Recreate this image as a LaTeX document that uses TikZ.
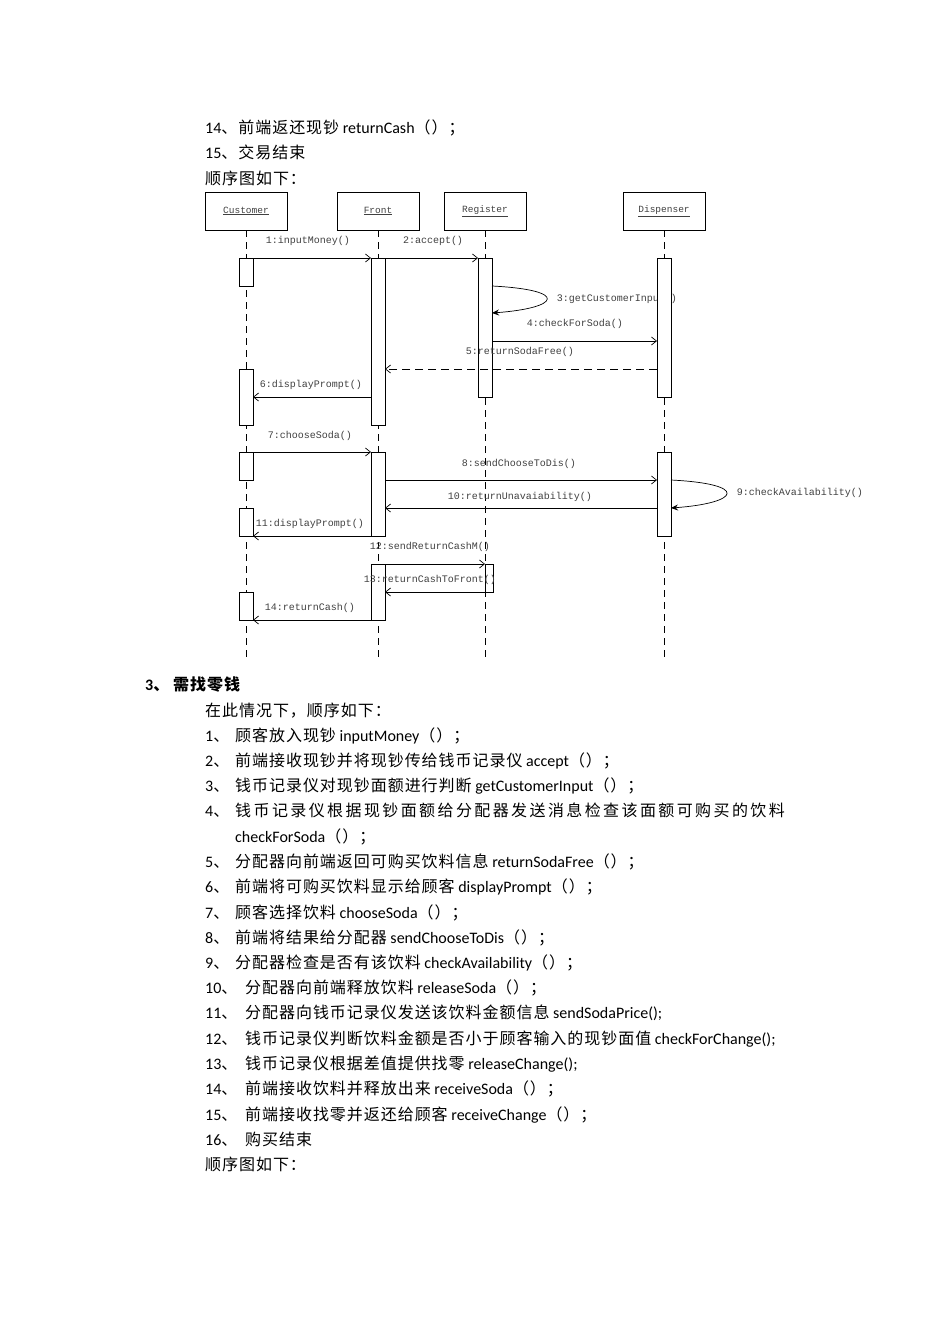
\documentclass[tikz,border=0pt]{standalone}
\usepackage{fontspec}
\setmainfont{Carlito}
\newfontfamily\cjk[LetterSpace=6]{Noto Sans CJK SC}
\newfontfamily\cjkw[LetterSpace=15]{Noto Sans CJK SC}
\newfontfamily\dmono{Liberation Mono}
\usetikzlibrary{arrows.meta}
\newcommand{\zh}[1]{{\cjk #1}}
\begin{document}
\begin{tikzpicture}[x=1pt,y=-1pt,
  txt/.style={anchor=base west,inner sep=0pt,font=\fontsize{16}{25}\selectfont},
  obj/.style={draw,line width=0.7pt,minimum width=82pt,minimum height=38pt,inner sep=0pt,font=\dmono\fontsize{9.5}{10}\selectfont,text=black!75},
  life/.style={dashed,dash pattern=on 7pt off 5pt,line width=0.7pt},
  act/.style={draw,fill=white,line width=0.7pt},
  msg/.style={line width=0.7pt,-{Straight Barb[length=5pt,width=8pt]}},
  rmsg/.style={msg,dashed,dash pattern=on 8pt off 5pt},
  self/.style={line width=0.7pt,-{Stealth[length=7pt,width=6pt]}},
  lab/.style={font=\dmono\fontsize{10}{10}\selectfont,inner sep=1pt,text=black!75}]
\useasboundingbox (0,0) rectangle (950,1344);
% top text
\node[txt] (t1) at (205,133) {14\zh{、前端返还现钞} returnCash\zh{（）；}};
\node[txt] (t2) at (205,158) {15\zh{、交易结束}};
\node[txt] (t3) at (205,184) {\zh{顺序图如下：}};
% objects
\node[obj] (cu) at (246,211) {\underline{Customer}};
\node[obj] (fr) at (378,211) {\underline{Front}};
\node[obj] (re) at (485,211) {\underline{Register}};
\node[obj] (di) at (664,211) {\underline{Dispenser}};
\coordinate (cuE) at (246,660);\coordinate (frE) at (378,660);
\coordinate (reE) at (485,660);\coordinate (diE) at (664,660);
\draw[life] (cu.south) -- (cuE);\draw[life] (fr.south) -- (frE);
\draw[life] (re.south) -- (reE);\draw[life] (di.south) -- (diE);
% labels that are partly covered
\node[lab] (l3) at (617,299) {3:getCustomerInput()};
\node[lab] (l9) at (800,493) {9:checkAvailability()};
% activations
\foreach \a/\b in {258/286,369/425,452/480,508/536,592/620}
  \draw[act] (239,\a) rectangle (253,\b);
\draw[act] (371,258) rectangle (385,425);
\draw[act] (371,452) rectangle (385,536);
\draw[act] (371,564) rectangle (385,620);
\draw[act] (478,258) rectangle (492,397);
\draw[act] (485,564) rectangle (493,592);
\draw[act] (657,258) rectangle (671,397);
\draw[act] (657,452) rectangle (671,536);
% message coordinates
\coordinate (m1a) at (253,258);\coordinate (m1b) at (371,258);
\coordinate (m2a) at (385,258);\coordinate (m2b) at (478,258);
\coordinate (m3a) at (492,286);\coordinate (m3b) at (492,313);
\coordinate (m4a) at (492,341);\coordinate (m4b) at (657,341);
\coordinate (m5a) at (657,369);\coordinate (m5b) at (385,369);
\coordinate (m6a) at (371,397);\coordinate (m6b) at (253,397);
\coordinate (m7a) at (253,452);\coordinate (m7b) at (371,452);
\coordinate (m8a) at (385,480);\coordinate (m8b) at (657,480);
\coordinate (m9a) at (671,480);\coordinate (m9b) at (671,508);
\coordinate (m10a) at (657,508);\coordinate (m10b) at (385,508);
\coordinate (m11a) at (371,536);\coordinate (m11b) at (253,536);
\coordinate (m12a) at (385,564);\coordinate (m12b) at (485,564);
\coordinate (m13a) at (485,592);\coordinate (m13b) at (385,592);
\coordinate (m14a) at (371,620);\coordinate (m14b) at (253,620);
\draw[msg] (m1a) -- (m1b);\draw[msg] (m2a) -- (m2b);
\draw[self] (m3a) .. controls (570,290) and (560,308) .. (m3b);
\draw[msg] (m4a) -- (m4b);\draw[rmsg] (m5a) -- (m5b);
\draw[msg] (m6a) -- (m6b);\draw[msg] (m7a) -- (m7b);
\draw[msg] (m8a) -- (m8b);
\draw[self] (m9a) .. controls (750,484) and (740,503) .. (m9b);
\draw[msg] (m10a) -- (m10b);\draw[msg] (m11a) -- (m11b);
\draw[msg] (m12a) -- (m12b);\draw[msg] (m13a) -- (m13b);
\draw[msg] (m14a) -- (m14b);
\node[lab] (l1) at (308,241) {1:inputMoney()};
\node[lab] (l2) at (433,241) {2:accept()};
\node[lab] (l4) at (575,324) {4:checkForSoda()};
\node[lab] (l5) at (520,352) {5:returnSodaFree()};
\node[lab] (l6) at (311,385) {6:displayPrompt()};
\node[lab] (l7) at (310,436) {7:chooseSoda()};
\node[lab] (l8) at (519,464) {8:sendChooseToDis()};
\node[lab] (l10) at (520,497) {10:returnUnavaiability()};
\node[lab] (l11) at (310,524) {11:displayPrompt()};
\node[lab] (l12) at (430,547) {12:sendReturnCashM()};
\node[lab] (l13) at (430,580) {13:returnCashToFront()};
\node[lab] (l14) at (310,608) {14:returnCash()};
% lower text
\node[txt,font=\fontsize{16}{25}\selectfont\bfseries] (h3) at (145,690) {3\zh{\bfseries 、}};
\node[txt,font=\fontsize{16}{25}\selectfont\bfseries] (h3b) at (173,690) {\zh{\bfseries 需找零钱}};
\node[txt] (p0) at (205,716) {\zh{在此情况下，顺序如下：}};
\foreach \n/\y in {1/741,2/766,3/791,4/816,5/867,6/892,7/918,8/943,9/968}
  \node[txt] (k\n) at (205,\y) {\n\zh{、}};
\foreach \n/\y in {10/993,11/1018,12/1044,13/1069,14/1094,15/1120,16/1145}
  \node[txt] (k\n) at (205,\y) {\n\zh{、}};
\node[txt] (n1) at (235,741) {\zh{顾客放入现钞} inputMoney\zh{（）；}};
\node[txt] (n2) at (235,766) {\zh{前端接收现钞并将现钞传给钱币记录仪} accept\zh{（）；}};
\node[txt] (n3) at (235,791) {\zh{钱币记录仪对现钞面额进行判断} getCustomerInput\zh{（）；}};
\node[txt] (n4) at (235,816) {{\cjkw 钱币记录仪根据现钞面额给分配器发送消息检查该面额可购买的饮料}};
\node[txt] (n4b) at (235,842) {checkForSoda\zh{（）；}};
\node[txt] (n5) at (235,867) {\zh{分配器向前端返回可购买饮料信息} returnSodaFree\zh{（）；}};
\node[txt] (n6) at (235,892) {\zh{前端将可购买饮料显示给顾客} displayPrompt\zh{（）；}};
\node[txt] (n7) at (235,918) {\zh{顾客选择饮料} chooseSoda\zh{（）；}};
\node[txt] (n8) at (235,943) {\zh{前端将结果给分配器} sendChooseToDis\zh{（）；}};
\node[txt] (n9) at (235,968) {\zh{分配器检查是否有该饮料} checkAvailability\zh{（）；}};
\node[txt] (n10) at (245,993) {\zh{分配器向前端释放饮料} releaseSoda\zh{（）；}};
\node[txt] (n11) at (245,1018) {\zh{分配器向钱币记录仪发送该饮料金额信息} sendSodaPrice();};
\node[txt] (n12) at (245,1044) {\zh{钱币记录仪判断饮料金额是否小于顾客输入的现钞面值} checkForChange();};
\node[txt] (n13) at (245,1069) {\zh{钱币记录仪根据差值提供找零} releaseChange();};
\node[txt] (n14) at (245,1094) {\zh{前端接收饮料并释放出来} receiveSoda\zh{（）；}};
\node[txt] (n15) at (245,1120) {\zh{前端接收找零并返还给顾客} receiveChange\zh{（）；}};
\node[txt] (n16) at (245,1145) {\zh{购买结束}};
\node[txt] (n17) at (205,1170) {\zh{顺序图如下：}};
\end{tikzpicture}
\end{document}
